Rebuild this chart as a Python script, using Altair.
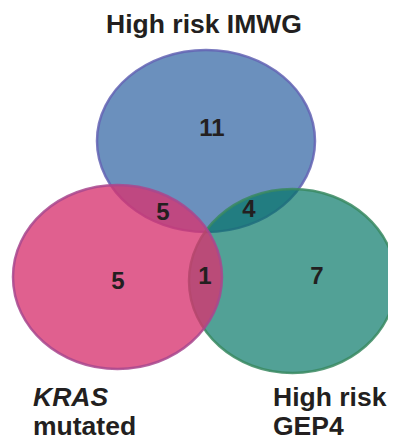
import altair as alt
import pandas as pd

# ---- data ----
set_names = ["High risk IMWG", "KRAS mutated", "High risk GEP4"]
region_names = ["IMWG only", "IMWG & KRAS", "IMWG & GEP4", "KRAS only", "KRAS & GEP4", "GEP4 only"]
region_counts = [11, 5, 4, 5, 1, 7]

# ---- layout (page pixel coordinates minus 8px margin) ----
ell_cx = [198, 109.5, 284.5]
ell_cy = [133, 269, 273]
ell_rx = [109, 104.5, 103.5]
ell_ry = [91, 92, 92]
fills = ["#6b90bd", "#d73370", "#007564"]
fill_op = [1.0, 0.78, 0.68]
strokes = ["#6464b4", "#a8488e", "#3a8a62"]
draw_order = [0, 2, 1]

cnt_x = [204, 155, 241, 110, 197, 309]
cnt_y = [121, 205, 202, 274, 269, 269]

W, H = 380, 432
xs = alt.Scale(domain=[0, W], nice=False, zero=False)
ys = alt.Scale(domain=[0, H], reverse=True, nice=False, zero=False)

layers = []
for i in draw_order:
    k = ell_ry[i] / ell_rx[i]
    path = f"M -1 0 A 1 {k:.4f} 0 1 1 1 0 A 1 {k:.4f} 0 1 1 -1 0 Z"
    df = pd.DataFrame({"set": [set_names[i]], "cx": [ell_cx[i]], "cy": [ell_cy[i]]})
    layers.append(
        alt.Chart(df).mark_point(
            shape=path, size=(2 * ell_rx[i]) ** 2, filled=True,
            fill=fills[i], fillOpacity=fill_op[i], stroke=strokes[i],
            strokeWidth=2.5, strokeOpacity=0.85, opacity=1,
        ).encode(
            x=alt.X("cx:Q", scale=xs, axis=None),
            y=alt.Y("cy:Q", scale=ys, axis=None),
        )
    )

counts_df = pd.DataFrame({"region": region_names, "n": region_counts, "x": cnt_x, "y": cnt_y})
counts = alt.Chart(counts_df).mark_text(
    font="Liberation Sans", fontSize=24, fontWeight="bold", color="#231f20",
    align="center", baseline="middle",
).encode(
    x=alt.X("x:Q", scale=xs, axis=None),
    y=alt.Y("y:Q", scale=ys, axis=None),
    text="n:Q",
)

title_df = pd.DataFrame({"t": [set_names[0]], "x": [196], "y": [25]})
title = alt.Chart(title_df).mark_text(
    font="Liberation Sans", fontSize=26.5, fontWeight="bold", color="#231f20",
    align="center", baseline="alphabetic",
).encode(x=alt.X("x:Q", scale=xs, axis=None), y=alt.Y("y:Q", scale=ys, axis=None), text="t:N")

kras_df = pd.DataFrame({"t": ["KRAS"], "x": [25], "y": [398]})
kras = alt.Chart(kras_df).mark_text(
    font="Liberation Sans", fontSize=26.5, fontWeight="bold", fontStyle="italic",
    color="#231f20", align="left", baseline="alphabetic",
).encode(x=alt.X("x:Q", scale=xs, axis=None), y=alt.Y("y:Q", scale=ys, axis=None), text="t:N")

other_df = pd.DataFrame({"t": ["mutated", "High risk", "GEP4"], "x": [25, 265, 265], "y": [427, 398, 427]})
other = alt.Chart(other_df).mark_text(
    font="Liberation Sans", fontSize=26.5, fontWeight="bold",
    color="#231f20", align="left", baseline="alphabetic",
).encode(x=alt.X("x:Q", scale=xs, axis=None), y=alt.Y("y:Q", scale=ys, axis=None), text="t:N")

chart = alt.layer(*layers, counts, title, kras, other).properties(
    width=W, height=H, padding=0, autosize=alt.AutoSizeParams(type="none"),
    background="white",
).configure_view(strokeWidth=0)

chart.save("out.html", embed_options={"renderer": "svg", "actions": False})
